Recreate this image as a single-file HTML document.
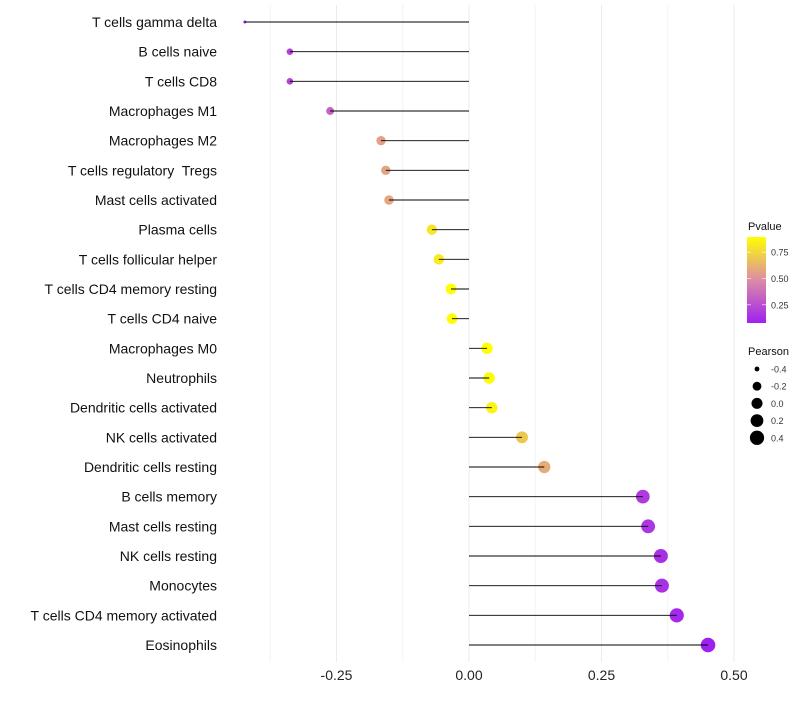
<!DOCTYPE html>
<html><head><meta charset="utf-8"><style>
body{margin:0;background:#fff;font-family:"Liberation Sans",sans-serif}
</style></head><body>
<svg id="c" width="800" height="700" xmlns="http://www.w3.org/2000/svg" font-family="Liberation Sans, sans-serif"></svg>
<script>
const categories=["T cells gamma delta","B cells naive","T cells CD8","Macrophages M1","Macrophages M2","T cells regulatory  Tregs","Mast cells activated","Plasma cells","T cells follicular helper","T cells CD4 memory resting","T cells CD4 naive","Macrophages M0","Neutrophils","Dendritic cells activated","NK cells activated","Dendritic cells resting","B cells memory","Mast cells resting","NK cells resting","Monocytes","T cells CD4 memory activated","Eosinophils"];
const pearson=[-0.423,-0.338,-0.338,-0.262,-0.166,-0.157,-0.151,-0.070,-0.057,-0.034,-0.032,0.034,0.038,0.043,0.100,0.142,0.328,0.338,0.362,0.364,0.392,0.451];
const pvalue=[0.08,0.21,0.21,0.33,0.56,0.57,0.58,0.80,0.82,0.89,0.89,0.89,0.88,0.85,0.70,0.60,0.18,0.16,0.14,0.14,0.11,0.08];
const xTicks=[-0.25,0,0.25,0.5];
const xTickLabels=["-0.25","0.00","0.25","0.50"];
const pTicks=[0.25,0.5,0.75];
const pTickLabels=["0.25","0.50","0.75"];
const sizeBreaks=[-0.4,-0.2,0,0.2,0.4];
const sizeLabels=["-0.4","-0.2","0.0","0.2","0.4"];

const svg=document.getElementById('c');const NS="http://www.w3.org/2000/svg";
function mk(t,a,p){const e=document.createElementNS(NS,t);for(const k in a)e.setAttribute(k,a[k]);(p||svg).appendChild(e);return e;}
const xs=v=>469+v*530;
const ys=i=>22+i*(623/(categories.length-1));
const sMin=Math.min(...pearson),sMax=Math.max(...pearson);
const rs=p=>{const t=Math.min(1,Math.max(0,(p-sMin)/(sMax-sMin)));return 7.3*(1.2+4.8*Math.sqrt(t))/6;};
const pMin=0.077,pMax=0.894;
function lerp(a,b,t){return a.map((v,i)=>Math.round(v+(b[i]-v)*t));}
function col(p){const t=Math.min(1,Math.max(0,(p-pMin)/(pMax-pMin)));const A=[160,32,240],M=[220,140,165],B=[255,255,0];const c=t<0.5?lerp(A,M,t*2):lerp(M,B,(t-0.5)*2);return `rgb(${c})`;}
for(const v of [-0.375,-0.125,0.125,0.375]){const l=mk('line',{x1:xs(v),x2:xs(v),y1:5,y2:662,stroke:'#f4f4f4','stroke-width':1});}
xTicks.forEach((v,i)=>{const l=mk('line',{x1:xs(v),x2:xs(v),y1:5,y2:662,stroke:'#ebebeb','stroke-width':1});
const t=mk('text',{x:xs(v),y:680,'text-anchor':'middle','font-size':14,fill:'#222'});t.textContent=xTickLabels[i];});
categories.forEach((c,i)=>{const y=ys(i);
const t=mk('text',{x:217,y:y+5,'text-anchor':'end','font-size':14,fill:'#111','xml:space':'preserve',style:'white-space:pre'});t.textContent=c;
const d=mk('circle',{cx:xs(pearson[i]),cy:y,r:rs(pearson[i]),fill:col(pvalue[i])});
const l=mk('line',{x1:xs(0),x2:xs(pearson[i]),y1:y,y2:y,stroke:'#000','stroke-width':0.9});});
const lt=mk('text',{x:748,y:230,'font-size':11,fill:'#111'});lt.textContent='Pvalue';
const defs=mk('defs',{});const g=mk('linearGradient',{id:'gr',x1:0,y1:1,x2:0,y2:0},defs);
[0,0.25,0.5,0.75,1].forEach(o=>mk('stop',{offset:o,'stop-color':col(pMin+o*(pMax-pMin))},g));
const cb=mk('rect',{x:747,y:237,width:19,height:86,fill:'url(#gr)'});
const py=p=>323-(p-pMin)/(pMax-pMin)*86;
pTicks.forEach((p,i)=>{mk('line',{x1:747,x2:751,y1:py(p),y2:py(p),stroke:'#fff','stroke-width':0.6});mk('line',{x1:762,x2:766,y1:py(p),y2:py(p),stroke:'#fff','stroke-width':0.6});
const t=mk('text',{x:771,y:py(p)+3.5,'font-size':9,fill:'#333'});t.textContent=pTickLabels[i];});
const st=mk('text',{x:748,y:355,'font-size':11,fill:'#111'});st.textContent='Pearson';
sizeBreaks.forEach((s,i)=>{const y=369+i*17.2;const c=mk('circle',{cx:757,cy:y,r:rs(s),fill:'#000'});
const t=mk('text',{x:771,y:y+3.5,'font-size':9,fill:'#333'});t.textContent=sizeLabels[i];});
</script>
</body></html>
